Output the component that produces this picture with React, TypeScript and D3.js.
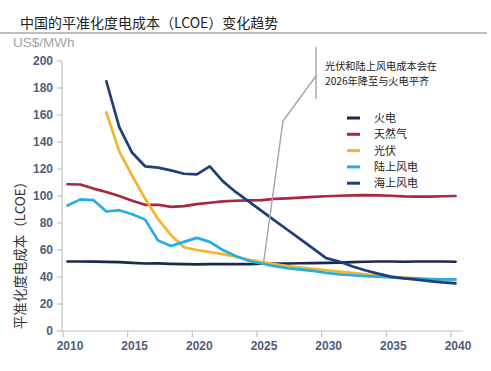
import React from "react";
import * as d3 from "d3";

// years shown on the x axis
const years = [
  2010, 2011, 2012, 2013, 2014, 2015, 2016, 2017, 2018, 2019, 2020,
  2021, 2022, 2023, 2024, 2025, 2026, 2027, 2028, 2029, 2030,
  2031, 2032, 2033, 2034, 2035, 2036, 2037, 2038, 2039, 2040,
];

// LCOE, US$/MWh
const coal = [
  51.5, 51.5, 51.4, 51.2, 51.0, 50.5, 50.0, 50.1, 49.7, 49.5, 49.3,
  49.5, 49.5, 49.5, 49.6, 49.8, 50.0, 50.0, 50.2, 50.3, 50.5,
  50.7, 51.0, 51.3, 51.5, 51.5, 51.3, 51.5, 51.5, 51.5, 51.3,
];
const gas = [
  108.7, 108.5, 105.5, 103.0, 100.0, 96.5, 93.5, 93.5, 92.0, 92.5, 94.0,
  95.0, 96.0, 96.5, 96.8, 97.0, 97.8, 98.3, 98.8, 99.3, 99.8,
  100.2, 100.5, 100.7, 100.5, 100.2, 99.7, 99.5, 99.6, 99.8, 100.0,
];
const solar = [
  null, null, null, 162, 133, 115, 98, 83, 71, 62, 60,
  58.5, 57, 55, 53, 51, 49.5, 48, 47, 46, 45,
  44, 43, 42, 41, 40, 39.5, 39, 38.5, 38, 37.5,
];
const onshore = [
  93, 97.5, 97, 88.5, 89.5, 86.5, 82.5, 67, 63, 66, 69,
  66, 60, 55.5, 52, 50, 48, 46.5, 45.5, 44.5, 43,
  42, 41.3, 40.7, 40.2, 39.7, 39.2, 38.8, 38.5, 38.3, 38.2,
];
const offshore = [
  null, null, null, 185, 151, 132, 122, 121, 119, 116.5, 116,
  122, 111, 103, 96, 89, 82, 75, 68, 61, 54,
  51.5, 48, 45, 42.5, 40.3, 39, 38, 37, 36, 35.3,
];

const seriesNames = ["火电", "天然气", "光伏", "陆上风电", "海上风电"];
const seriesValues = [coal, gas, solar, onshore, offshore];
const colors = ["#1b2a4a", "#a8283f", "#f2b52c", "#22b0e4", "#1f3e7c"];

const yTickValues = [0, 20, 40, 60, 80, 100, 120, 140, 160, 180, 200];
const xTickValues = [2010, 2015, 2020, 2025, 2030, 2035, 2040];

const W = 491;
const H = 371;
const tickColor = "#4e5d7e";
const axisColor = "#c2c2c2";
const cjk = "'Noto Sans CJK SC', 'Noto Sans', sans-serif";
const latin = "'Liberation Sans', Arial, sans-serif";

export default function App() {
  const x = d3.scaleLinear().domain([2010, 2040]).range([63, 451]);
  const y = d3.scaleLinear().domain([0, 200]).range([331, 61]);
  const shift = 0.35; // points sit a bit right of the ticks

  const line = d3
    .line<[number, number | null]>()
    .defined((d) => d[1] != null)
    .x((d) => x(d[0] + shift))
    .y((d) => y(d[1] as number));

  // callout end point: where solar / onshore wind meet coal
  const cx = x(2025.5);
  const cy = y(50);

  return (
    <svg
      width={W}
      height={H}
      style={{ position: "absolute", left: 0, top: 0, background: "#fff" }}
    >
      <text x={20} y={28} fontFamily={cjk} fontSize={14} fill="#222">
        中国的平准化度电成本（LCOE）变化趋势
      </text>
      <line x1={0} x2={487} y1={33} y2={33} stroke="#a8a8a8" strokeWidth={1.5} />
      <text x={13} y={47} fontFamily={latin} fontSize={13.5} fill="#a3a3a3">
        US$/MWh
      </text>

      {/* y axis */}
      <line x1={62} x2={62} y1={y(200)} y2={y(0)} stroke={axisColor} strokeWidth={1.2} />
      {yTickValues.map((t) => (
        <g key={t}>
          <line x1={57} x2={62} y1={y(t)} y2={y(t)} stroke={axisColor} strokeWidth={1.2} />
          <text
            x={53}
            y={y(t)}
            dy="0.35em"
            textAnchor="end"
            fontFamily={latin}
            fontWeight="bold"
            fontSize={12}
            fill={tickColor}
          >
            {t}
          </text>
        </g>
      ))}
      <text
        transform={`translate(25,${252}) rotate(-90)`}
        textAnchor="middle"
        fontFamily={cjk}
        fontSize={13.5}
        fill="#333"
      >
        平准化度电成本（LCOE）
      </text>

      {/* x axis */}
      <line x1={62} x2={463} y1={y(0)} y2={y(0)} stroke={axisColor} strokeWidth={1.2} />
      {xTickValues.map((t) => (
        <g key={t}>
          <line x1={x(t)} x2={x(t)} y1={y(0)} y2={y(0) + 6} stroke={axisColor} strokeWidth={1.2} />
          <text
            x={x(t) + 7}
            y={350}
            textAnchor="middle"
            fontFamily={latin}
            fontWeight="bold"
            fontSize={12}
            fill={tickColor}
          >
            {t}
          </text>
        </g>
      ))}

      {/* series */}
      {seriesValues.map((vals, i) => (
        <path
          key={seriesNames[i]}
          d={line(years.map((yr, j) => [yr, vals[j]])) || ""}
          fill="none"
          stroke={colors[i]}
          strokeWidth={2.7}
          strokeLinejoin="round"
          strokeLinecap="round"
        />
      ))}

      {/* callout */}
      <line x1={316} x2={316} y1={47} y2={99} stroke="#a8a8a8" strokeWidth={1.5} />
      <polyline
        points={`316,76 283,121 ${cx},${cy}`}
        fill="none"
        stroke="#a8a8a8"
        strokeWidth={1.5}
      />
      <text x={325} y={70} fontFamily={cjk} fontSize={10.2} fill="#222">
        光伏和陆上风电成本会在
      </text>
      <text x={325} y={85} fontFamily={cjk} fontSize={10.2} fill="#222">
        2026年降至与火电平齐
      </text>

      {/* legend */}
      {seriesNames.map((name, i) => (
        <g key={name} transform={`translate(347,${118 + i * 16.3})`}>
          <line x1={0} x2={13} y1={0} y2={0} stroke={colors[i]} strokeWidth={3} />
          <text x={27} y={0} dy="0.36em" fontFamily={cjk} fontSize={11} fill="#222">
            {name}
          </text>
        </g>
      ))}
    </svg>
  );
}
